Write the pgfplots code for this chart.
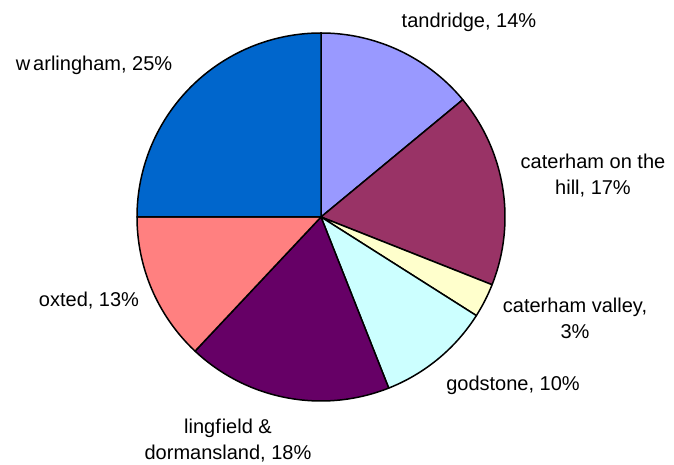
\documentclass[border=0pt]{standalone}
\usepackage{fontspec}
\setmainfont{Liberation Sans}
\usepackage{pgfplots}
\pgfplotsset{compat=1.18}
\definecolor{cTan}{HTML}{9999FF}
\definecolor{cCoh}{HTML}{993366}
\definecolor{cCv}{HTML}{FFFFCC}
\definecolor{cGod}{HTML}{CCFFFF}
\definecolor{cLing}{HTML}{660066}
\definecolor{cOxt}{HTML}{FF8080}
\definecolor{cWar}{HTML}{0066CC}
\tikzset{lbl/.style={font=\fontsize{20}{26}\selectfont, align=center, text=black, inner sep=0pt}}
% slice: #1 = cumulative percent before this slice, #2 = percent, #3 = colour
\newcommand\slice[3]{%
  \pgfmathsetmacro\angA{90-3.6*(#1+#2)}%
  \pgfmathsetmacro\angB{90-3.6*(#1)}%
  \addplot[draw=black, line width=1.5pt, line join=round, fill=#3, domain=\angA:\angB, samples=90, variable=\t]
    ({184*cos(\t)},{184*sin(\t)}) -- (axis cs:0,0) -- cycle;
}
\begin{document}
\begin{tikzpicture}
\begin{axis}[
  scale only axis, width=674pt, height=465pt,
  xmin=-321, xmax=353, ymin=-248, ymax=217,
  hide axis, clip=false,
]
\addplot[draw=none] coordinates {(-321,-248) (353,217)};
\slice{0}{14}{cTan}
\slice{14}{17}{cCoh}
\slice{31}{3}{cCv}
\slice{34}{10}{cGod}
\slice{44}{18}{cLing}
\slice{62}{13}{cOxt}
\slice{75}{25}{cWar}
\node[lbl] at (axis cs:-227,152) {w\kern3pt arlingham, 25\%};
\node[lbl] at (axis cs:148,195) {tandridge, 14\%};
\node[lbl] at (axis cs:272,41) {caterham on the\\hill, 17\%};
\node[lbl] at (axis cs:254,-101) {caterham valley,\\3\%};
\node[lbl] at (axis cs:192,-168) {godstone, 10\%};
\node[lbl] at (axis cs:-93,-224) {lingf\kern1pt ield \&\\dormansland, 18\%};
\node[lbl] at (axis cs:-232,-84) {oxted, 13\%};
\end{axis}
\end{tikzpicture}
\end{document}
